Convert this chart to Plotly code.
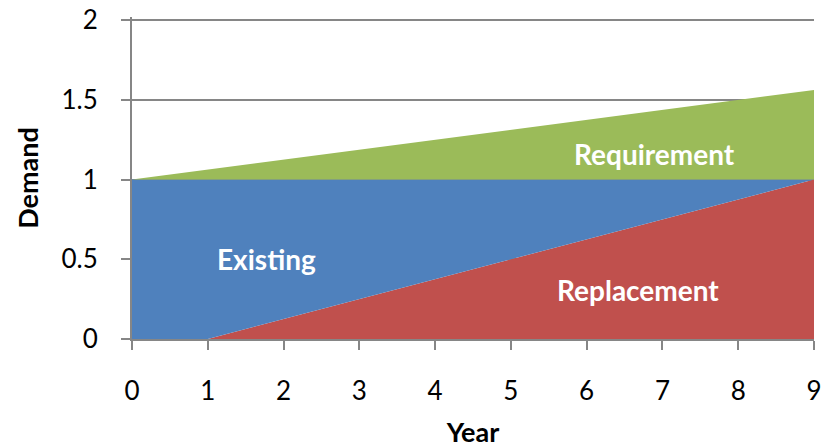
import plotly.graph_objects as go

years = [0, 1, 2, 3, 4, 5, 6, 7, 8, 9]
replacement = [0, 0, 0.125, 0.25, 0.375, 0.5, 0.625, 0.75, 0.875, 1.0]
existing = [1.0, 1.0, 0.875, 0.75, 0.625, 0.5, 0.375, 0.25, 0.125, 0]
requirement = [0, 0.0625, 0.125, 0.1875, 0.25, 0.3125, 0.375, 0.4375, 0.5, 0.5625]
y_ticks = [0, 0.5, 1, 1.5, 2]
y_ticktext = ["0", "0.5", "1", "1.5", "2"]

series = [
    ("Replacement", replacement, "#C0504D"),
    ("Existing", existing, "#4F81BD"),
    ("Requirement", requirement, "#9BBB59"),
]

fig = go.Figure()
for name, vals, col in series:
    fig.add_trace(go.Scatter(
        x=years, y=vals, name=name, stackgroup="one", mode="lines",
        line=dict(width=0, color=col), fillcolor=col, hoverinfo="skip",
    ))

font = "Lato, Carlito, 'Open Sans', sans-serif"
labels = [("Existing", 1.78, 0.5), ("Replacement", 6.68, 0.31), ("Requirement", 6.9, 1.16)]
for txt, xv, yv in labels:
    fig.add_annotation(x=xv, y=yv, text="<b>%s</b>" % txt, showarrow=False,
                       font=dict(family=font, size=28, color="white"))

fig.update_layout(
    width=831, height=447,
    margin=dict(l=124, r=25, t=9, b=116),
    plot_bgcolor="white", paper_bgcolor="white",
    showlegend=False,
    font=dict(family=font, size=26, color="black"),
    xaxis=dict(
        range=[0, 9], tickvals=years, showgrid=False, zeroline=False,
        showline=True, linecolor="#868686", linewidth=2, automargin=False,
        ticks="outside", ticklen=9, tickcolor="#868686", tickwidth=2,
        ticklabelstandoff=19,
        title=dict(text="<b>Year</b>", font=dict(size=27), standoff=18),
    ),
    yaxis=dict(
        range=[0, 2.02], tickvals=y_ticks, ticktext=y_ticktext,
        showgrid=True, gridcolor="#868686", gridwidth=2, zeroline=False,
        showline=True, linecolor="#868686", linewidth=2, automargin=False,
        ticks="outside", ticklen=9, tickcolor="#868686", tickwidth=2,
        ticklabelstandoff=18, ticklabeloverflow="allow",
        title=dict(text="<b>Demand</b>", font=dict(size=27), standoff=15),
    ),
)

fig.write_html("out.html")
